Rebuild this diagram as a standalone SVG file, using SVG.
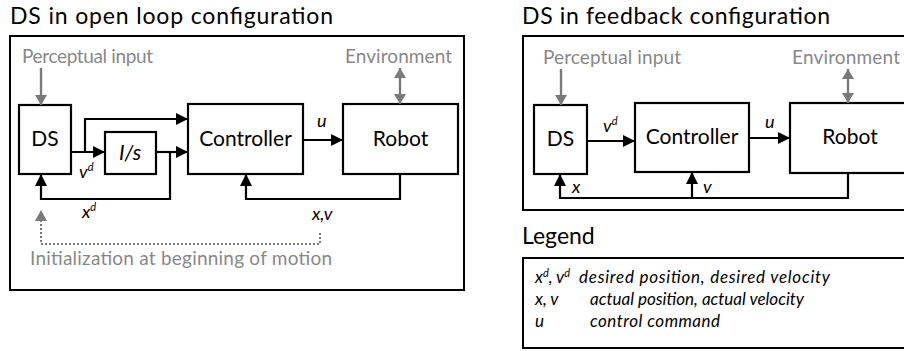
<svg xmlns="http://www.w3.org/2000/svg" width="904" height="351" viewBox="0 0 904 351">
  <style>
    .frame { fill: none; stroke: #000; stroke-width: 2; }
    .box { fill: #fff; stroke: #000; stroke-width: 2.2; }
    .wire { fill: none; stroke: #000; stroke-width: 2.2; }
    .grey { fill: none; stroke: #7a7a7a; stroke-width: 2.4; }
    .dots { fill: none; stroke: #7a7a7a; stroke-width: 2; stroke-dasharray: 2 2; }
    .title { font-family: Lato, "Liberation Sans", sans-serif; font-size: 23px; fill: #000; }
    .label { font-family: Lato, "Liberation Sans", sans-serif; font-size: 21px; fill: #000; text-anchor: middle; }
    .note { font-family: Lato, "Liberation Sans", sans-serif; font-size: 19px; fill: #888; }
    .sym { font-family: Lato, "Liberation Sans", sans-serif; font-size: 18px; font-style: italic; fill: #000; }
    .sup { font-size: 11px; }
    .leg { font-family: Lato, "Liberation Sans", sans-serif; font-size: 17px; font-style: italic; fill: #000; }
  </style>
  <defs>
    <marker id="arrow" viewBox="0 0 12 12" refX="12" refY="6" markerWidth="12" markerHeight="12" markerUnits="userSpaceOnUse" orient="auto">
      <path d="M0,0 L12,6 L0,12 z" fill="#000"/>
    </marker>
    <marker id="garrow" viewBox="0 0 10 12" refX="10" refY="6" markerWidth="10" markerHeight="12" markerUnits="userSpaceOnUse" orient="auto">
      <path d="M0,0 L10,6 L0,12 z" fill="#7a7a7a"/>
    </marker>
    <marker id="garrow2" viewBox="0 0 10 12" refX="10" refY="6" markerWidth="10" markerHeight="12" markerUnits="userSpaceOnUse" orient="auto-start-reverse">
      <path d="M0,0 L10,6 L0,12 z" fill="#7a7a7a"/>
    </marker>
  </defs>

  <!-- open loop panel -->
  <text class="title" x="10" y="24" textLength="323">DS in open loop configuration</text>
  <rect class="frame" x="10" y="36" width="454" height="254"/>
  <text class="note" x="22" y="63" textLength="131">Perceptual input</text>
  <text class="note" x="345" y="63" textLength="107">Environment</text>
  <text class="note" x="30" y="265" textLength="302">Initialization at beginning of motion</text>

  <g id="ol-ds">
    <rect class="box" x="19" y="105" width="52" height="69"/>
    <text class="label" x="45" y="146">DS</text>
  </g>
  <g id="ol-integrator">
    <rect class="box" x="105" y="132" width="51" height="42"/>
    <text class="label" x="130" y="160" font-style="italic">I/s</text>
  </g>
  <g id="ol-controller">
    <rect class="box" x="188" y="104" width="115" height="70"/>
    <text class="label" x="245.5" y="146">Controller</text>
  </g>
  <g id="ol-robot">
    <rect class="box" x="343" y="104" width="115" height="70"/>
    <text class="label" x="400.5" y="146">Robot</text>
  </g>

  <g id="ol-connectors">
    <path class="grey" d="M41,68 V105" marker-end="url(#garrow)"/>
    <path class="grey" d="M400,68 V104" marker-start="url(#garrow2)" marker-end="url(#garrow2)"/>
    <path class="wire" d="M71,152 H105" marker-end="url(#arrow)"/>
    <path class="wire" d="M85,152 V119 H188" marker-end="url(#arrow)"/>
    <path class="wire" d="M156,152 H188" marker-end="url(#arrow)"/>
    <path class="wire" d="M170,152 V199 H41 V174" marker-end="url(#arrow)"/>
    <path class="wire" d="M303,140 H343" marker-end="url(#arrow)"/>
    <path class="wire" d="M400,174 V199 H246 V174" marker-end="url(#arrow)"/>
    <path class="dots" d="M320,233 V244 H41 V221"/>
    <path d="M35,221 L41,210 L47,221 z" fill="#7a7a7a"/>
    <text class="sym" x="79" y="178">v<tspan class="sup" dy="-7">d</tspan></text>
    <text class="sym" x="82" y="218">x<tspan class="sup" dy="-7">d</tspan></text>
    <text class="sym" x="317" y="127">u</text>
    <text class="sym" x="312" y="220">x,v</text>
  </g>

  <!-- feedback panel -->
  <text class="title" x="522" y="24" textLength="308">DS in feedback configuration</text>
  <rect class="frame" x="523" y="36" width="400" height="174"/>
  <text class="note" x="543" y="64" textLength="138">Perceptual input</text>
  <text class="note" x="792" y="64" textLength="108">Environment</text>

  <g id="fb-ds">
    <rect class="box" x="534" y="105" width="53" height="69"/>
    <text class="label" x="560.5" y="146">DS</text>
  </g>
  <g id="fb-controller">
    <rect class="box" x="635" y="103" width="114" height="69"/>
    <text class="label" x="692" y="144">Controller</text>
  </g>
  <g id="fb-robot">
    <rect class="box" x="790" y="103" width="140" height="70"/>
    <text class="label" x="850" y="144">Robot</text>
  </g>

  <g id="fb-connectors">
    <path class="grey" d="M561,69 V105" marker-end="url(#garrow)"/>
    <path class="grey" d="M848,69 V103" marker-start="url(#garrow2)" marker-end="url(#garrow2)"/>
    <path class="wire" d="M587,141 H635" marker-end="url(#arrow)"/>
    <path class="wire" d="M749,138 H790" marker-end="url(#arrow)"/>
    <path class="wire" d="M848,173 V198 H560 V174" marker-end="url(#arrow)"/>
    <path class="wire" d="M692,198 V172" marker-end="url(#arrow)"/>
    <text class="sym" x="603" y="132">v<tspan class="sup" dy="-7">d</tspan></text>
    <text class="sym" x="765" y="128">u</text>
    <text class="sym" x="572" y="193">x</text>
    <text class="sym" x="703" y="193">v</text>
  </g>

  <!-- legend -->
  <g id="legend">
    <text class="title" x="522" y="244">Legend</text>
    <rect class="frame" x="523" y="258" width="400" height="90"/>
    <text class="leg" x="535" y="283">x<tspan class="sup" dy="-6">d</tspan><tspan dy="6">, v</tspan><tspan class="sup" dy="-6">d</tspan></text>
    <text class="leg" x="579" y="283" textLength="251">desired position, desired velocity</text>
    <text class="leg" x="535" y="305">x, v</text>
    <text class="leg" x="590" y="305" textLength="214">actual position, actual velocity</text>
    <text class="leg" x="535" y="327">u</text>
    <text class="leg" x="590" y="327" textLength="130">control command</text>
  </g>
</svg>
